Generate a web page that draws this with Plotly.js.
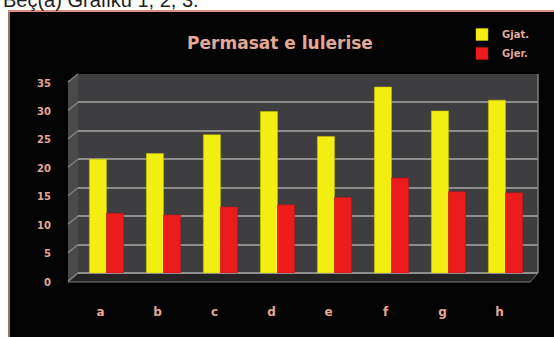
<!DOCTYPE html>
<html>
<head>
<meta charset="utf-8">
<script src="https://cdn.plot.ly/plotly-3.0.1.min.js"></script>
<style>
  html, body { margin: 0; padding: 0; background: #ffffff; }
  #chart { width: 554px; height: 337px; }
</style>
</head>
<body>
<div id="chart"></div>
<script>
// Flower dimensions: length (Gjat.) and width (Gjer.) per sample
const categories = ['a', 'b', 'c', 'd', 'e', 'f', 'g', 'h'];
const gjatValues = [20, 21, 24.3, 28.4, 24, 32.7, 28.5, 30.4];
const gjerValues = [10.5, 10.2, 11.6, 12, 13.3, 16.7, 14.3, 14.1];
const yTicks = [0, 5, 10, 15, 20, 25, 30, 35];

const W = 554, H = 337;
const M = { l: 78, r: 16, t: 74, b: 64 };
const PW = W - M.l - M.r, PH = H - M.t - M.b;
// pixel -> paper helpers for the frame and the 3D wall/floor decoration
const px = x => (x - M.l) / PW;
const py = y => (H - M.b - y) / PH;

const labelColor = '#e3a896';
const labelFont = 'DejaVu Sans, Verdana, sans-serif';

const traces = [
  {
    type: 'bar', name: 'Gjat.', x: categories, y: gjatValues,
    marker: { color: '#f3ee12', line: { color: '#c9c200', width: 0.5 } }
  },
  {
    type: 'bar', name: 'Gjer.', x: categories, y: gjerValues,
    marker: { color: '#ec1c1c', line: { color: '#b81010', width: 0.5 } }
  }
];

const shapes = [
  // white page strips around the black chart frame
  { type: 'rect', xref: 'paper', yref: 'paper', layer: 'below',
    x0: px(-5), x1: px(560), y0: py(10), y1: py(-5),
    fillcolor: '#ffffff', line: { width: 0 } },
  { type: 'rect', xref: 'paper', yref: 'paper', layer: 'below',
    x0: px(-5), x1: px(8), y0: py(345), y1: py(10),
    fillcolor: '#ffffff', line: { width: 0 } },
  // salmon border of the frame
  { type: 'line', xref: 'paper', yref: 'paper', layer: 'below',
    x0: px(8), x1: px(560), y0: py(11), y1: py(11),
    line: { color: '#d9907c', width: 2 } },
  { type: 'line', xref: 'paper', yref: 'paper', layer: 'below',
    x0: px(9), x1: px(9), y0: py(11), y1: py(345),
    line: { color: '#c99a8c', width: 1.5 } },
  // left side wall
  { type: 'path', xref: 'paper', yref: 'paper', layer: 'below',
    path: `M ${px(68)},${py(81)} L ${px(78)},${py(74)} L ${px(78)},${py(273)} L ${px(68)},${py(282)} Z`,
    fillcolor: '#4a4a4c', line: { width: 0 } },
  // floor
  { type: 'path', xref: 'paper', yref: 'paper', layer: 'below',
    path: `M ${px(68)},${py(282)} L ${px(78)},${py(273)} L ${px(538)},${py(273)} L ${px(530)},${py(282)} Z`,
    fillcolor: '#242424', line: { color: '#7a7a7a', width: 1 } },
  // right edge of the back wall
  { type: 'line', xref: 'paper', yref: 'paper', layer: 'above',
    x0: 1, x1: 1, y0: 0, y1: 1, line: { color: '#7f7f7f', width: 1.5 } }
];
// slanted grid lines on the side wall
yTicks.forEach(v => {
  const yf = v / 35;
  shapes.push({ type: 'line', xref: 'paper', yref: 'paper', layer: 'below',
    x0: px(78), y0: yf, x1: px(68), y1: yf - 8 / PH,
    line: { color: '#808080', width: 1.5 } });
});

const layout = {
  width: W, height: H,
  margin: M,
  paper_bgcolor: '#030303',
  plot_bgcolor: '#3e3e40',
  font: { family: labelFont, color: labelColor },
  title: {
    text: 'Permasat e lulerise',
    font: { size: 17, weight: 'bold', color: labelColor, family: labelFont },
    xref: 'container', x: 280 / W, xanchor: 'center',
    yref: 'container', y: 1 - 43 / H, yanchor: 'middle'
  },
  barmode: 'group',
  bargap: 0.4,
  bargroupgap: 0,
  xaxis: {
    range: [-0.5, 7.57],
    showgrid: false, zeroline: false, showline: false, ticks: '',
    tickfont: { size: 12, weight: 'bold', color: labelColor, family: labelFont },
    ticklabelstandoff: 30,
    ticklabelshift: -6,
    fixedrange: true
  },
  yaxis: {
    range: [0, 35],
    tickvals: yTicks,
    showgrid: true, gridcolor: '#8e8e8e', gridwidth: 2,
    zeroline: true, zerolinecolor: '#8e8e8e', zerolinewidth: 2,
    showline: false, ticks: '',
    tickfont: { size: 10, weight: 'bold', color: labelColor, family: labelFont },
    ticklabelstandoff: 26,
    ticklabelshift: 9,
    fixedrange: true
  },
  legend: {
    x: px(462), xanchor: 'left',
    y: py(20), yanchor: 'top',
    bgcolor: 'rgba(0,0,0,0)',
    font: { size: 10, weight: 'bold', color: labelColor, family: labelFont },
    itemwidth: 30,
    tracegroupgap: 0
  },
  showlegend: true,
  shapes: shapes,
  annotations: [
    { text: 'Beç(a) Grafiku 1, 2, 3.', xref: 'paper', yref: 'paper',
      x: px(2), xanchor: 'left', y: py(12), yanchor: 'bottom',
      showarrow: false, borderpad: 0,
      font: { size: 20, color: '#1e1e1e', family: 'Liberation Sans, Arial, sans-serif' } }
  ]
};

Plotly.newPlot('chart', traces, layout, { displayModeBar: false, staticPlot: true });
</script>
</body>
</html>
